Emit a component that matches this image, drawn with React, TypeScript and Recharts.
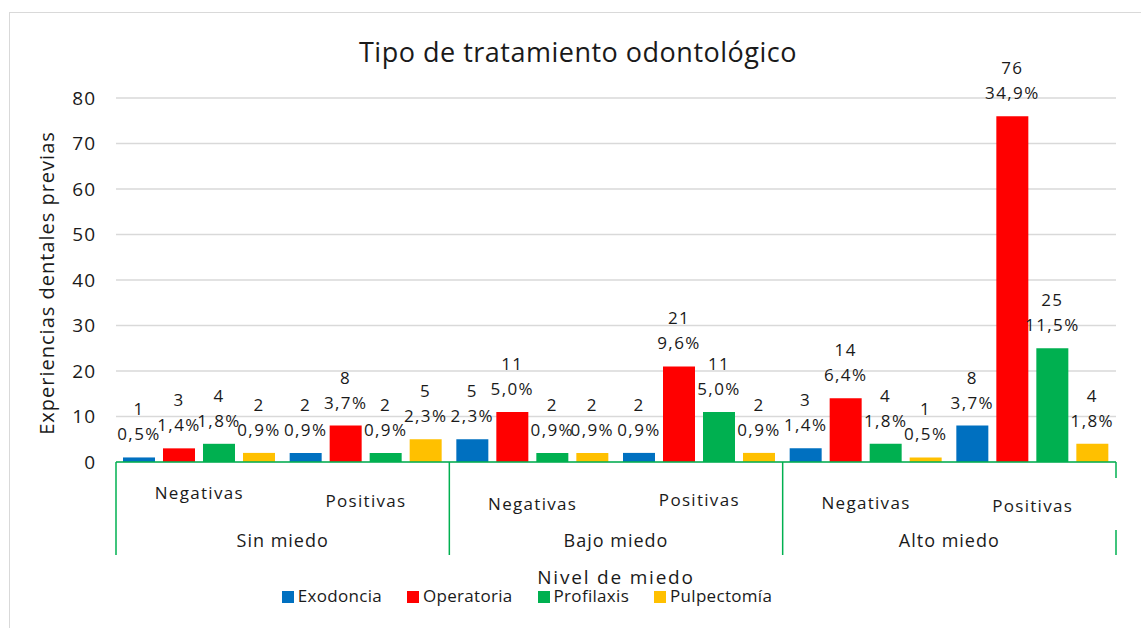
import React from 'react';
import { BarChart, Bar, XAxis, YAxis, CartesianGrid, Legend, LabelList } from 'recharts';

const subgrupos = ['Negativas', 'Positivas', 'Negativas', 'Positivas', 'Negativas', 'Positivas'];
const grupos = ['Sin miedo', 'Sin miedo', 'Bajo miedo', 'Bajo miedo', 'Alto miedo', 'Alto miedo'];

const exodoncia = [1, 2, 5, 2, 3, 8];
const operatoria = [3, 8, 11, 21, 14, 76];
const profilaxis = [4, 2, 2, 11, 4, 25];
const pulpectomia = [2, 5, 2, 2, 1, 4];

const pctExodoncia = ['0,5%', '0,9%', '2,3%', '0,9%', '1,4%', '3,7%'];
const pctOperatoria = ['1,4%', '3,7%', '5,0%', '9,6%', '6,4%', '34,9%'];
const pctProfilaxis = ['1,8%', '0,9%', '0,9%', '5,0%', '1,8%', '11,5%'];
const pctPulpectomia = ['0,9%', '2,3%', '0,9%', '0,9%', '0,5%', '1,8%'];

const yTicks = [0, 10, 20, 30, 40, 50, 60, 70, 80];

const data = subgrupos.map((s, i) => ({
  sub: s,
  grupo: grupos[i],
  Exodoncia: exodoncia[i],
  Operatoria: operatoria[i],
  Profilaxis: profilaxis[i],
  Pulpectomía: pulpectomia[i],
}));

const FONT = '"Open Sans", "Noto Sans", sans-serif';
const GREEN = '#00B050';
const TXT = '#1a1a1a';
// the sub-level labels sit at slightly uneven heights in the original
const subNudge = [-6, 2, 5, 1, 4, 7];

// two-line data label: count on top, percent below
const twoLine = (pcts: string[]) => (props: any) => {
  const { x, y, width, value, index } = props;
  const cx = Number(x) + Number(width) / 2;
  return (
    <g fontSize={17} fontFamily={FONT} fill={TXT} letterSpacing={1.4} textAnchor="middle">
      <text x={cx} y={Number(y) - 42}>{value}</text>
      <text x={cx} y={Number(y) - 17}>{pcts[index]}</text>
    </g>
  );
};

const SubTick = (props: any) => {
  const { x, y, payload, index, visibleTicksCount, width } = props;
  const band = (width || 1000) / (visibleTicksCount || 6);
  const last = index === (visibleTicksCount || 6) - 1;
  return (
    <g>
      <text
        x={x}
        y={y + 43 + (subNudge[index] || 0)}
        textAnchor="middle"
        fontSize={17}
        letterSpacing={1.3}
        fontFamily={FONT}
        fill={TXT}
      >
        {payload.value}
      </text>
      {index % 2 === 0 && (
        <line x1={x - band / 2} x2={x - band / 2} y1={y} y2={y + 93} stroke={GREEN} strokeWidth={1.5} />
      )}
      {last && (
        <>
          <line x1={x + band / 2} x2={x + band / 2} y1={y} y2={y + 16} stroke={GREEN} strokeWidth={1.5} />
          <line x1={x + band / 2} x2={x + band / 2} y1={y + 68} y2={y + 93} stroke={GREEN} strokeWidth={1.5} />
        </>
      )}
    </g>
  );
};

const GroupTick = (props: any) => {
  const { x, y, payload, index, visibleTicksCount, width } = props;
  if (index % 2 !== 0) return null;
  const band = (width || 1000) / (visibleTicksCount || 6);
  return (
    <text x={x + band / 2} y={y + 15} textAnchor="middle" fontSize={18} letterSpacing={1} fontFamily={FONT} fill={TXT}>
      {payload.value}
    </text>
  );
};

export default function App() {
  return (
    <div style={{ position: 'relative', width: 1141, height: 628, overflow: 'hidden', background: '#fff' }}>
      <style>{`body{margin:0}`}</style>
      <div
        style={{
          position: 'absolute',
          left: 9,
          top: 12,
          width: 1200,
          height: 700,
          border: '1.5px solid #d9d9d9',
        }}
      />
      <div style={{ position: 'absolute', left: 0, top: 0 }}>
        <BarChart
          width={1141}
          height={628}
          data={data}
          margin={{ top: 98, right: 25, bottom: 43, left: 0 }}
          barCategoryGap={7}
          barGap={8}
        >
          <CartesianGrid vertical={false} stroke="#d9d9d9" strokeWidth={1.3} />
          <YAxis
            width={116}
            domain={[0, 80]}
            ticks={yTicks}
            axisLine={false}
            tickLine={false}
            tickSize={0}
            tickMargin={20}
            tick={{ fontSize: 19, fontFamily: FONT, fill: TXT, letterSpacing: 1 }}
          />
          <XAxis
            dataKey="sub"
            interval={0}
            height={70}
            tickSize={0}
            tickMargin={0}
            axisLine={{ stroke: GREEN, strokeWidth: 1.5 }}
            tickLine={false}
            tick={<SubTick />}
          />
          <XAxis
            dataKey="grupo"
            xAxisId="grupo"
            interval={0}
            height={30}
            tickSize={0}
            tickMargin={0}
            axisLine={false}
            tickLine={false}
            allowDuplicatedCategory
            tick={<GroupTick />}
          />
          <Legend
            verticalAlign="bottom"
            align="center"
            iconType="square"
            iconSize={12}
            wrapperStyle={{ fontFamily: FONT, fontSize: 17, letterSpacing: 0.3, left: 0, width: 1079, top: 584 }}
            formatter={(v: string) => <span style={{ color: TXT, paddingRight: 15 }}>{v}</span>}
          />
          <Bar dataKey="Exodoncia" fill="#0070C0" isAnimationActive={false}>
            <LabelList dataKey="Exodoncia" content={twoLine(pctExodoncia)} />
          </Bar>
          <Bar dataKey="Operatoria" fill="#FF0000" isAnimationActive={false}>
            <LabelList dataKey="Operatoria" content={twoLine(pctOperatoria)} />
          </Bar>
          <Bar dataKey="Profilaxis" fill="#00B050" isAnimationActive={false}>
            <LabelList dataKey="Profilaxis" content={twoLine(pctProfilaxis)} />
          </Bar>
          <Bar dataKey="Pulpectomía" fill="#FFC000" isAnimationActive={false}>
            <LabelList dataKey="Pulpectomía" content={twoLine(pctPulpectomia)} />
          </Bar>
          <text x={578} y={62} textAnchor="middle" fontSize={27} letterSpacing={0.5} fontFamily={FONT} fill={TXT}>
            Tipo de tratamiento odontológico
          </text>
          <text
            x={54}
            y={283}
            transform="rotate(-90 54 283)"
            textAnchor="middle"
            fontSize={20}
            letterSpacing={1}
            fontFamily={FONT}
            fill={TXT}
          >
            Experiencias dentales previas
          </text>
          <text x={616} y={584} textAnchor="middle" fontSize={19} letterSpacing={1.8} fontFamily={FONT} fill={TXT}>
            Nivel de miedo
          </text>
        </BarChart>
      </div>
    </div>
  );
}
